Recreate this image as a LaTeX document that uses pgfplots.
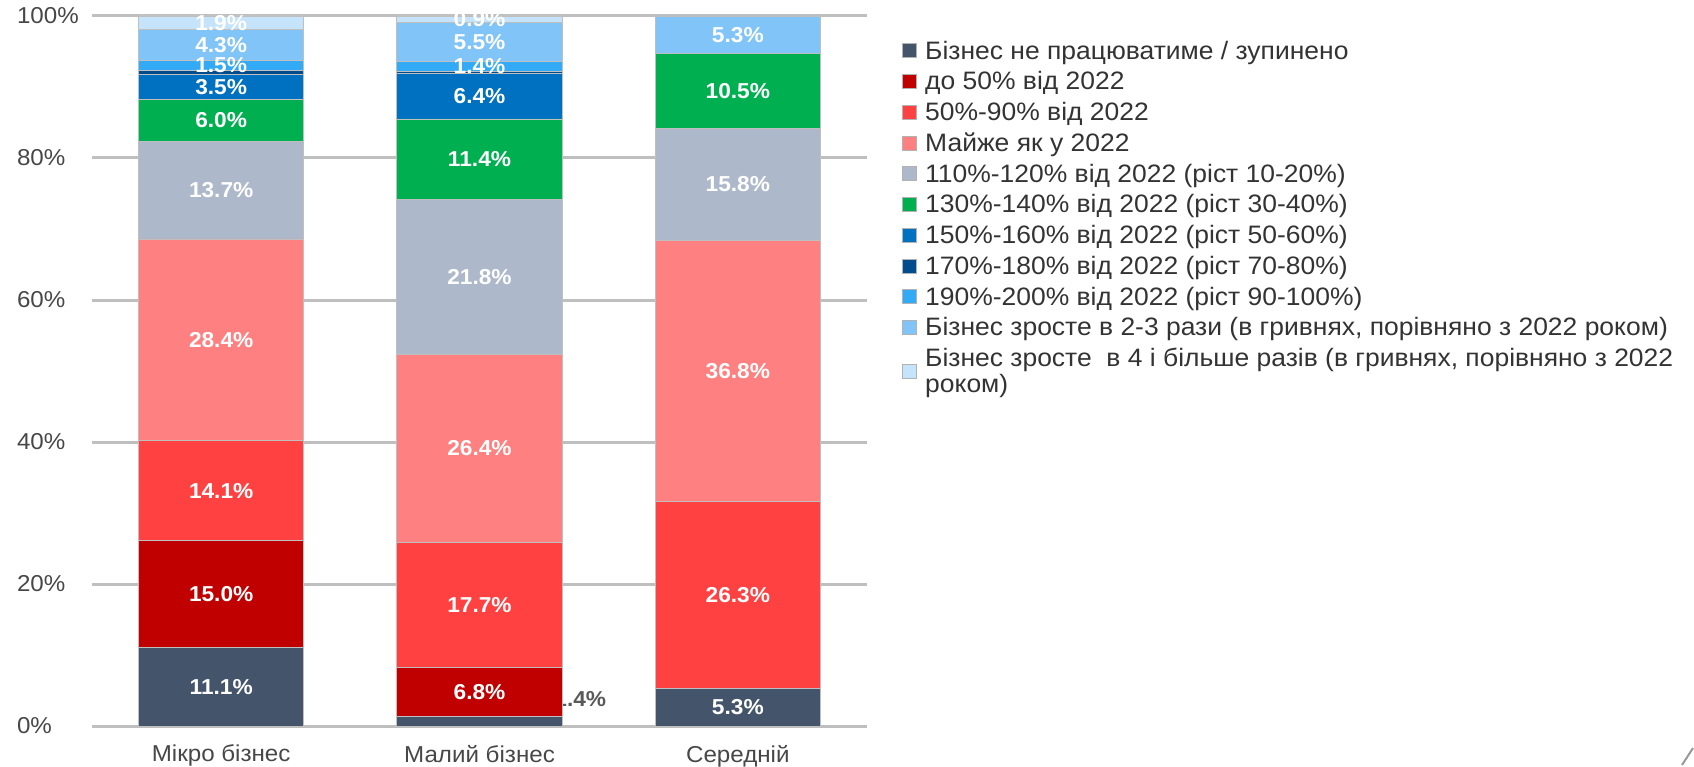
\documentclass[border=0pt]{standalone}
\usepackage{pgfplots}
\usepackage{pgfplotstable}
\pgfplotsset{compat=1.18}
\usepackage{fontspec}
\setmainfont[FakeStretch=1.05]{Liberation Sans}
\definecolor{c1}{HTML}{44546A}
\definecolor{c2}{HTML}{C00000}
\definecolor{c3}{HTML}{FF4141}
\definecolor{c4}{HTML}{FF8080}
\definecolor{c5}{HTML}{ADB9CA}
\definecolor{c6}{HTML}{00B050}
\definecolor{c7}{HTML}{0070C0}
\definecolor{c8}{HTML}{004C8C}
\definecolor{c9}{HTML}{33AAF5}
\definecolor{c10}{HTML}{80C4F8}
\definecolor{c11}{HTML}{C5E4FC}
% x = category (0 Мікро, 1 Малий, 2 Середній), v = share in %, s = show label inside bar
\pgfplotstableread{
x v s
0 11.1 1
1 1.4 0
2 5.3 1
}\tA
\pgfplotstableread{
x v s
0 15.0 1
1 6.8 1
2 0 0
}\tB
\pgfplotstableread{
x v s
0 14.1 1
1 17.7 1
2 26.3 1
}\tC
\pgfplotstableread{
x v s
0 28.4 1
1 26.4 1
2 36.8 1
}\tD
\pgfplotstableread{
x v s
0 13.7 1
1 21.8 1
2 15.8 1
}\tE
\pgfplotstableread{
x v s
0 6.0 1
1 11.4 1
2 10.5 1
}\tF
\pgfplotstableread{
x v s
0 3.5 1
1 6.4 1
2 0 0
}\tG
\pgfplotstableread{
x v s
0 0.5 0
1 0.3 0
2 0 0
}\tH
\pgfplotstableread{
x v s
0 1.5 1
1 1.4 1
2 0 0
}\tI
\pgfplotstableread{
x v s
0 4.3 1
1 5.5 1
2 5.3 1
}\tJ
\pgfplotstableread{
x v s
0 1.9 1
1 0.9 1
2 0 0
}\tK
\begin{document}
\begin{tikzpicture}
\begin{axis}[
  scale only axis, width=387.5pt, height=355pt,
  ybar stacked, bar width=0.64,
  xmin=-0.5, xmax=2.5, ymin=0, ymax=100,
  xtick={0,1,2}, xticklabels={Мікро бізнес, Малий бізнес, Середній},
  ytick={0,20,...,100}, yticklabel={\pgfmathprintnumber{\tick}\%},
  /pgf/number format/assume math mode=true,
  ymajorgrids, grid style={line width=1.5pt, color=black!25},
  axis line style={draw=none}, major tick length=0pt,
  tick label style={font=\fontsize{11.5}{13}\selectfont, text=black!72},
  yticklabel style={anchor=west, xshift=-41pt},
  xticklabel style={yshift=-6pt},
  visualization depends on=\thisrow{v} \as \rawv,
  visualization depends on=\thisrow{s} \as \showlbl,
  nodes near coords={\ifdim\showlbl pt>0.5pt \pgfmathprintnumber[fixed,fixed zerofill,precision=1]{\rawv}\%\fi},
  every node near coord/.append style={anchor=center, font=\fontsize{10.8}{12}\selectfont\bfseries, text=white},
  legend image code/.code={\draw[#1, draw=black!30] (0pt,-3.5pt) rectangle (7pt,3.5pt);},
  legend cell align=left,
  legend style={at={(1,1)}, anchor=north west, xshift=17.5pt, yshift=-9.5pt, draw=none, fill=none, inner sep=0pt,
    font=\fontsize{12.6}{14.1}\selectfont, text=black!80, row sep=0pt,
    cells={align=left, inner ysep=0pt},
    /tikz/every odd column/.append style={column sep=2pt}},
  every axis plot/.append style={draw=black!25, line width=0.4pt},
]
\addplot[fill=c1] table[x=x,y=v] {\tA};
\addlegendentry{\strut Бізнес не працюватиме / зупинено}
\addplot[fill=c2] table[x=x,y=v] {\tB};
\addlegendentry{\strut до 50\% від 2022}
\addplot[fill=c3] table[x=x,y=v] {\tC};
\addlegendentry{\strut 50\%-90\% від 2022}
\addplot[fill=c4] table[x=x,y=v] {\tD};
\addlegendentry{\strut Майже як у 2022}
\addplot[fill=c5] table[x=x,y=v] {\tE};
\addlegendentry{\strut 110\%-120\% від 2022 (ріст 10-20\%)}
\addplot[fill=c6] table[x=x,y=v] {\tF};
\addlegendentry{\strut 130\%-140\% від 2022 (ріст 30-40\%)}
\addplot[fill=c7] table[x=x,y=v] {\tG};
\addlegendentry{\strut 150\%-160\% від 2022 (ріст 50-60\%)}
\addplot[fill=c8] table[x=x,y=v] {\tH};
\addlegendentry{\strut 170\%-180\% від 2022 (ріст 70-80\%)}
\addplot[fill=c9] table[x=x,y=v] {\tI};
\addlegendentry{\strut 190\%-200\% від 2022 (ріст 90-100\%)}
\addplot[fill=c10] table[x=x,y=v] {\tJ};
\addlegendentry{\strut Бізнес зросте в 2-3 рази (в гривнях, порівняно з 2022 роком)}
\addplot[fill=c11] table[x=x,y=v] {\tK};
\addlegendentry{\strut Бізнес зросте\ \ в 4 і більше разів (в гривнях, порівняно з 2022\\[-1.2pt]\strut роком)}
\node[font=\fontsize{10.8}{12}\selectfont\bfseries, text=black!65] at (axis cs:1.39,3.8) {1.4\%};
\end{axis}
\draw[black!40, line width=1pt] ([xshift=407.5pt,yshift=-19.5pt]current axis.south east) -- ([xshift=413pt,yshift=-11pt]current axis.south east);
\pgfresetboundingbox
\path[use as bounding box] ([xshift=-46pt,yshift=-20pt]current axis.south west) rectangle ([xshift=413.5pt,yshift=8pt]current axis.north east);
\end{tikzpicture}
\end{document}
